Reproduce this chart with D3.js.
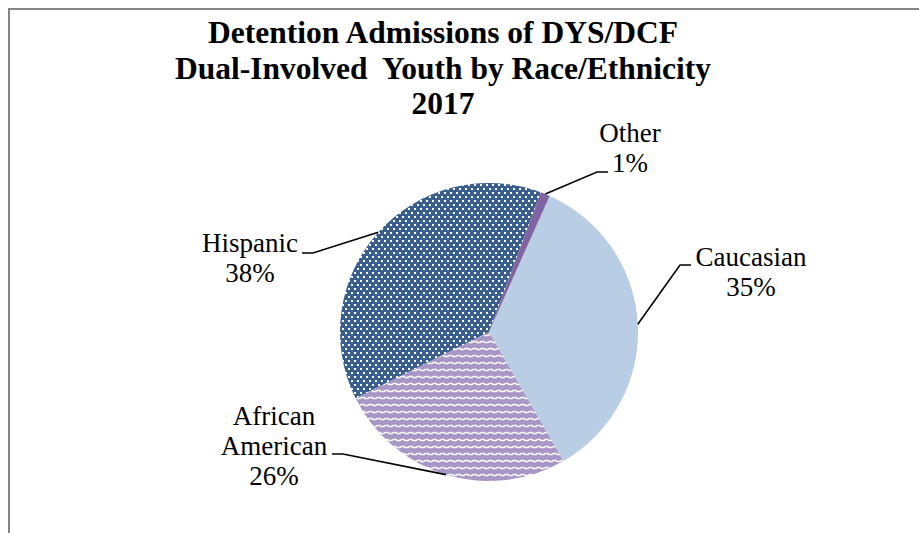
<!DOCTYPE html>
<html>
<head>
<meta charset="utf-8">
<script src="https://cdn.jsdelivr.net/npm/d3@7/dist/d3.min.js"></script>
<style>
  html, body { margin: 0; padding: 0; background: #fff; }
  text { font-family: "Liberation Serif", "Times New Roman", serif; fill: #000; }
</style>
</head>
<body>
<svg id="chart" width="919" height="533"></svg>
<script>
// chart data
var categories = ["Caucasian", "African American", "Hispanic", "Other"];
var percents = [35, 26, 38, 1];
var labelLines = [["Caucasian"], ["African", "American"], ["Hispanic"], ["Other"]];
var titleLines = ["Detention Admissions of DYS/DCF", "Dual-Involved  Youth by Race/Ethnicity", "2017"];

var W = 919, H = 533;
var cx = 489, cy = 332, r = 149;
var startDeg = 24;

// manual label placement (relative to pie centre), like the hand-dragged labels in the original
var labelLayout = [
  { tx: 262, ty: -66, ex: 191, ey: -67, side: 1 },   // Caucasian
  { tx: -215, ty: 93, ex: -146, ey: 122, side: -1 }, // African American
  { tx: -239, ty: -80, ex: -176, ey: -79, side: -1 },// Hispanic
  { tx: 141, ty: -190, ex: 108, ey: -160, side: 1 }  // Other
];

var svg = d3.select("#chart");
var defs = svg.append("defs");

// dotted pattern (Hispanic)
var pd = defs.append("pattern").attr("id", "dots")
  .attr("patternUnits", "userSpaceOnUse").attr("width", 6).attr("height", 8);
pd.append("rect").attr("width", 6).attr("height", 8).attr("fill", "#3a5e8e");
pd.append("rect").attr("x", 0).attr("y", 0).attr("width", 2).attr("height", 2).attr("fill", "#fff");
pd.append("rect").attr("x", 3).attr("y", 4).attr("width", 2).attr("height", 2).attr("fill", "#fff");

// wave pattern (African American)
var pw = defs.append("pattern").attr("id", "wave")
  .attr("patternUnits", "userSpaceOnUse").attr("width", 8).attr("height", 7);
pw.append("rect").attr("width", 8).attr("height", 7).attr("fill", "#a897c6");
pw.append("path").attr("d", "M0,2.5 L3,2.5 L4,3.5 L7,3.5 L8,2.5")
  .attr("fill", "none").attr("stroke", "#fff").attr("stroke-width", 1.3);

var fills = ["#b9cde5", "url(#wave)", "url(#dots)", "#8064a2"];

// outer chart-area border
svg.append("rect")
  .attr("x", 9).attr("y", 9).attr("width", W + 20).attr("height", H + 20)
  .attr("fill", "none").attr("stroke", "#858585").attr("stroke-width", 2);

// title
svg.append("g").selectAll("text")
  .data(titleLines)
  .enter().append("text")
  .attr("x", 443)
  .attr("y", function(d, i) { return 43 + i * 35.5; })
  .attr("text-anchor", "middle")
  .attr("font-weight", "bold")
  .attr("font-size", 31.5)
  .style("white-space", "pre")
  .text(function(d) { return d; });

var data = categories.map(function(c, i) { return { name: c, value: percents[i], idx: i }; });

var pie = d3.pie()
  .value(function(d) { return d.value; })
  .sort(null)
  .startAngle(startDeg * Math.PI / 180)
  .endAngle(startDeg * Math.PI / 180 + 2 * Math.PI);

var arc = d3.arc().innerRadius(0).outerRadius(r);
var arcs = pie(data);

var g = svg.append("g").attr("transform", "translate(" + cx + "," + cy + ")");

g.selectAll("path.slice")
  .data(arcs)
  .enter().append("path")
  .attr("class", "slice")
  .attr("d", arc)
  .attr("fill", function(d) { return fills[d.data.idx]; });

// leader lines
g.selectAll("polyline.leader")
  .data(arcs)
  .enter().append("polyline")
  .attr("class", "leader")
  .attr("fill", "none")
  .attr("stroke", "#000")
  .attr("stroke-width", 1.6)
  .attr("points", function(d) {
    var a = (d.startAngle + d.endAngle) / 2;
    var L = labelLayout[d.data.idx];
    var p0 = [r * Math.sin(a), -r * Math.cos(a)];
    return [p0, [L.ex, L.ey], [L.ex + L.side * 11, L.ey]].map(function(p) { return p.join(","); }).join(" ");
  });

// labels
var lg = g.selectAll("g.label")
  .data(arcs)
  .enter().append("g")
  .attr("class", "label")
  .attr("transform", function(d) {
    var L = labelLayout[d.data.idx];
    return "translate(" + L.tx + "," + L.ty + ")";
  });

lg.selectAll("text")
  .data(function(d) { return labelLines[d.data.idx].concat([d.data.value + "%"]); })
  .enter().append("text")
  .attr("x", 0)
  .attr("y", function(d, i) { return i * 30; })
  .attr("text-anchor", "middle")
  .attr("font-size", 27)
  .text(function(d) { return d; });
</script>
</body>
</html>
